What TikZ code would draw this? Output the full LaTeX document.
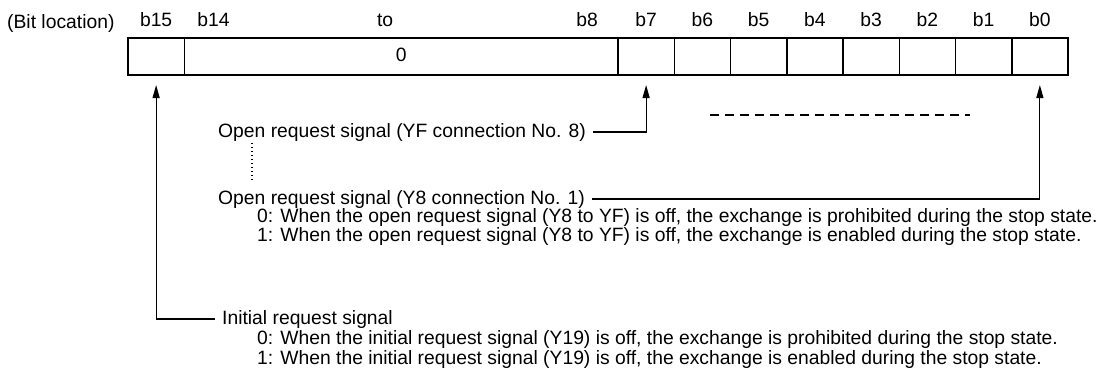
\documentclass[tikz,border=0pt]{standalone}
\usepackage{fontspec}
\setmainfont{Liberation Sans}
\usepackage{tikz}
\usetikzlibrary{arrows.meta, positioning}
\tikzset{
    cell/.style={draw=black, line width=1.5pt, minimum width=56.25pt, minimum height=37pt,
                 inner sep=0pt, outer sep=0pt, anchor=north west},
    widecell/.style={cell, minimum width=433.75pt},
    bitlab/.style={inner sep=0pt},
    txt/.style={inner sep=0pt, anchor=base west},
    arr/.style={-{Triangle[length=13pt, width=7pt]}, line width=1.2pt, shorten >=10pt, shorten <=7pt},
}

\begin{document}
\begin{tikzpicture}[x=1pt, y=-1pt, font=\fontsize{19.3pt}{25pt}\selectfont]
    \useasboundingbox (0,0) rectangle (1120,383);
    % register cells
    \node[cell] (b15) at (128,38) {};
    \node[widecell, right=0pt of b15] (b14) {\raisebox{3pt}{0}};
    \node[cell, right=0pt of b14] (b7) {};
    \node[cell, right=0pt of b7] (b6) {};
    \node[cell, right=0pt of b6] (b5) {};
    \node[cell, right=0pt of b5] (b4) {};
    \node[cell, right=0pt of b4] (b3) {};
    \node[cell, right=0pt of b3] (b2) {};
    \node[cell, right=0pt of b2] (b1) {};
    \node[cell, right=0pt of b1] (b0) {};
    % bit labels
    \node[txt] (bitloc) at (7,28) {(Bit location)};
    \node[bitlab, above=11pt of b15] (l15) {b15};
    \node[bitlab, above=11pt of b14.north west, anchor=south west, xshift=13pt] (l14) {b14};
    \node[bitlab, above=11pt of b14.north, xshift=-16pt] (lto) {to};
    \node[bitlab, above=11pt of b14.north east, anchor=south east, xshift=-20pt] (l8) {b8};
    \node[bitlab, above=11pt of b7] (l7) {b7};
    \node[bitlab, above=11pt of b6] (l6) {b6};
    \node[bitlab, above=11pt of b5] (l5) {b5};
    \node[bitlab, above=11pt of b4] (l4) {b4};
    \node[bitlab, above=11pt of b3] (l3) {b3};
    \node[bitlab, above=11pt of b2] (l2) {b2};
    \node[bitlab, above=11pt of b1] (l1) {b1};
    \node[bitlab, above=11pt of b0] (l0) {b0};
    % open request signals
    \node[txt] (sigF) at (218,137) {Open request signal (YF connection No. 8)};
    \node[txt] (sig1) at (218,204) {Open request signal (Y8 connection No. 1)};
    \node[txt] (sig1a) at (257,222) {0: When the open request signal (Y8 to YF) is off, the exchange is prohibited during the stop state.};
    \node[txt] (sig1b) at (257,241) {1: When the open request signal (Y8 to YF) is off, the exchange is enabled during the stop state.};
    \coordinate (dotA) at (252,143);
    \coordinate (dotB) at (252,182);
    \draw[line width=1.3pt, dash pattern=on 1.3pt off 2.7pt] (dotA) -- (dotB);
    \coordinate (dashA) at (710,115);
    \coordinate (dashB) at (970,115);
    \draw[line width=1.2pt, dash pattern=on 9pt off 6pt] (dashA) -- (dashB);
    % initial request signal
    \node[txt] (sigI) at (222,324) {Initial request signal};
    \node[txt] (sigIa) at (257,344) {0: When the initial request signal (Y19) is off, the exchange is prohibited during the stop state.};
    \node[txt] (sigIb) at (257,364) {1: When the initial request signal (Y19) is off, the exchange is enabled during the stop state.};
    % connectors
    \draw[arr] (sigF.east) -| (b7.south);
    \draw[arr] (sig1.east) -| (b0.south);
    \draw[arr] (sigI.west) -| (b15.south);
\end{tikzpicture}
\end{document}
